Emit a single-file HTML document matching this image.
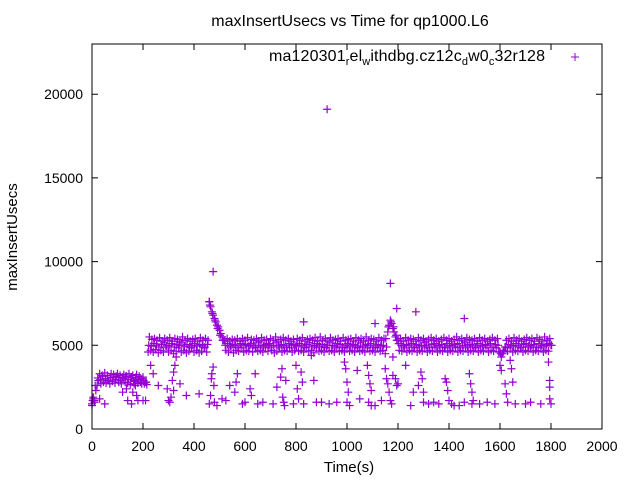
<!DOCTYPE html>
<html><head><meta charset="utf-8"><style>
body{margin:0;background:#fff}
svg{display:block;font-family:"Liberation Sans",sans-serif}
</style></head><body>
<svg id="c" width="640" height="480" xmlns="http://www.w3.org/2000/svg">
<rect width="640" height="480" fill="#fff"/>
<text x="350" y="26" font-size="16" text-anchor="middle">maxInsertUsecs vs Time for qp1000.L6</text>
<text x="349" y="472" font-size="15" text-anchor="middle">Time(s)</text>
<text transform="translate(17,237) rotate(-90)" font-size="15" text-anchor="middle">maxInsertUsecs</text>
<g id="ticks"></g>
<g id="marks"></g>
<rect x="92" y="44" width="510" height="385" fill="none" stroke="#000" stroke-width="1"/>
<g>
<text x="545" y="61" font-size="16" text-anchor="end" textLength="276">ma120301<tspan font-size="11" dy="4">r</tspan><tspan dy="-4">el</tspan><tspan font-size="11" dy="4">w</tspan><tspan dy="-4">ithdbg.cz12c</tspan><tspan font-size="11" dy="4">d</tspan><tspan dy="-4">w0</tspan><tspan font-size="11" dy="4">c</tspan><tspan dy="-4">32r128</tspan></text>
<path d="M571 57h8M575 53v8" stroke="#9400d3" stroke-width="1"/>
</g>
</svg>
<script>
const xTicks=[0,200,400,600,800,1000,1200,1400,1600,1800,2000];
const yTicks=[0,5000,10000,15000,20000];
const bandStart=0, bandStep=5;
const bandV=[
1500,1900,1700,2300,2600,2900,3300,2700,3200,2800,3350,2750,3200,2900,2700,3300,2850,3250,2750,3150,
3300,2800,3200,2700,3100,3250,2800,3150,2750,3300,2650,3100,3200,2700,2850,3250,2750,3150,2800,2700,
3100,2700,2800,2650,4600,5500,4700,5350,4600,5400,4750,5300,4550,5450,4700,5250,4600,5400,4850,5300,
4600,5450,4700,5250,4500,5400,4650,5350,4850,5250,4600,5500,4700,5300,4550,5400,4650,5250,4850,5350,
4600,5400,4700,5250,4550,5450,4650,5300,4850,5400,4600,5300,7600,7300,7000,6800,6600,6400,6200,6100,
5900,5700,5500,5300,5300,4700,5400,4600,5250,4850,5350,4550,5300,4700,5400,4650,5250,4850,5400,4600,
5300,4700,5450,4650,5000,5350,4600,5300,4850,5400,4650,5250,4700,5450,4600,5300,4850,5350,4650,5000,
5400,4700,5300,4550,5500,4650,5250,4850,5350,4600,5450,4700,5300,4650,5400,4850,5250,4600,5350,4700,
5000,5400,4650,5300,4700,5450,4600,5250,4850,5350,4650,5400,4700,5300,4550,5450,4850,5250,4650,5500,
4700,5300,4600,5400,4850,5250,4650,5450,4700,5300,4600,5350,4850,5400,4650,5250,4700,5450,4600,5300,
4850,5350,4650,5400,4700,5250,4600,5450,4850,5300,4650,5400,4700,5250,4600,5500,4850,5300,4650,5400,
4700,5350,4600,5250,4850,5450,4650,5300,4700,5400,4500,4900,5800,6200,6500,6300,6000,5800,5500,5300,
5300,4700,5400,4650,5250,4850,5450,4600,5300,4700,5400,4650,5350,4850,5250,4600,5450,4700,5300,4650,
5400,4850,5250,4600,5350,4700,5450,4650,5300,4850,5400,4600,5250,4700,5350,4650,5450,4850,5300,4600,
5400,4700,5250,4650,5350,4850,5500,4600,5300,4700,5400,4650,5250,4850,5450,4600,5350,4700,5300,4650,
5400,4850,5250,4600,5450,4700,5300,4650,5400,4850,5250,4600,5350,4700,5450,4650,5300,4850,5400,4600,
4600,4300,4500,4700,4900,5300,4650,5400,4850,5250,4600,5450,4700,5300,4650,5400,4850,5250,4600,5350,
4700,5450,4650,5300,4850,5400,4600,5250,4700,5450,4650,5350,4850,5250,4600,5500,4700,5300,4650,5400,
5000];
const band2Start=2.5, band2Step=10;
const band2V=[
1700,2600,3050,2950,3150,3000,2900,3100,3050,2950,3100,2900,3000,3150,2950,3050,2850,3100,2950,3000,2900,2800,
5000,4950,5100,5000,4900,5050,5150,4950,5000,5100,4900,5050,5000,5150,4950,5050,4900,5000,5100,4950,5050,5000,4900,5050,
7400,6900,6500,6000,5600,5300,5000,5100,4950,5050,5000,4900,5100,5000,
5050,4950,5100,5000,4900,5150,5000,4950,5050,5100,4900,5000,5150,4950,5050,5000,4900,5100,5000,5050,
4950,5100,5000,4900,5050,5150,4950,5000,5100,4950,5050,4900,5000,5150,5000,4950,5100,5050,4900,5000,
5100,4950,5050,5000,4900,5150,4950,5050,5000,5100,4900,5000,5050,4950,5000,
5400,6100,6400,6100,5600,
5100,5000,4950,5050,5000,5100,4900,5050,5000,4950,5150,5000,4900,5050,5100,4950,5000,5050,4900,5100,
5000,4950,5050,5100,4900,5000,5150,4950,5050,5000,4900,5100,5000,4950,5050,5000,5100,4900,5050,5000,
4500,4600,4900,5050,5000,4950,5100,5000,4900,5050,5100,4950,5000,5050,4900,5100,5000,4950,5050,5100,
5000];
const extraT=[0,5,10,160,170,175,180,165,140,155,30,50,120,135,200,210,260,240,230,295,300,305,310,315,320,325,330,320,345,370,420,460,465,470,475,478,468,480,490,510,525,540,560,565,570,590,600,620,625,640,650,670,710,725,740,745,748,752,755,760,790,800,805,810,820,825,830,860,870,880,900,930,960,990,995,1000,1005,1000,1010,1040,1050,1080,1085,1090,1095,1085,1095,1110,1135,1150,1155,1160,1165,1170,1175,1180,1190,1200,1180,1195,1230,1250,1260,1280,1290,1295,1300,1300,1320,1340,1360,1385,1390,1395,1400,1410,1420,1440,1460,1480,1485,1490,1495,1490,1520,1550,1580,1600,1605,1620,1625,1630,1640,1645,1650,1660,1700,1720,1760,1790,1795,1795,1795,1800,922,475,1170,1270,1460,830,1195,1110,460];
const extraV=[1400,1800,1600,2200,2600,2000,1700,2900,1700,1500,1800,1500,2200,2400,1700,1700,2600,3300,3800,2400,1700,1600,1900,2900,3400,3800,4300,2300,2700,2000,2100,1500,2000,3300,3700,2600,3000,1600,1400,1800,1700,2600,2200,2800,3300,1500,1600,2400,2000,3300,1500,1600,1500,2500,3100,3600,1900,1600,1400,2900,1500,3800,2400,1800,3400,2800,1500,4400,2900,1600,1600,1500,1600,4000,3600,2800,2200,1600,1400,3500,1800,3800,3200,2700,2300,1600,1400,1400,1700,3600,3000,2700,2200,1700,1500,3200,3000,2700,4300,2600,3800,1400,2200,2600,3400,3000,2200,1600,1500,1600,1500,3000,2800,2300,1700,1500,1400,1400,1600,3300,2700,2200,1700,1500,1500,1600,1500,3800,3500,2700,2100,1600,4100,3600,2800,1500,1500,1600,1500,4000,2900,2500,1800,1500,19100,9400,8700,7000,6600,6400,7200,6300,7600];

const X0=92,X1=602,Y0=429,Y1=44;
const xs=t=>X0+(t-0)/2000*(X1-X0);
const ys=v=>Y0-(v-0)/23000*(Y0-Y1);
const NS="http://www.w3.org/2000/svg";
const tg=document.getElementById('ticks'), mg=document.getElementById('marks');
function mk(tag,attrs,parent){const e=document.createElementNS(NS,tag);for(const k in attrs)e.setAttribute(k,attrs[k]);parent.appendChild(e);return e;}
xTicks.forEach(t=>{
  const x=xs(t);
  const p=mk('path',{d:`M${x} ${Y0}v-6M${x} ${Y1}v6`,stroke:'#000'},tg);
  
  
  const l=mk('text',{x:x,y:451,'font-size':14,'text-anchor':'middle'},tg);l.textContent=t;
  
  
});
yTicks.forEach(v=>{
  const y=ys(v);
  const p=mk('path',{d:`M${X0} ${y}h6M${X1} ${y}h-6`,stroke:'#000'},tg);
  
  
  const l=mk('text',{x:83,y:y+5,'font-size':14,'text-anchor':'end'},tg);l.textContent=v;
  
  
});
function plus(t,v){
  const x=xs(t),y=ys(v);
  const p=mk('path',{d:`M${x-4} ${y}h8M${x} ${y-4}v8`,stroke:'#9400d3','stroke-width':1.2},mg);
  
  
}
bandV.forEach((v,i)=>plus(bandStart+i*bandStep,v));
band2V.forEach((v,i)=>plus(band2Start+i*band2Step,v));
extraT.forEach((t,i)=>plus(t,extraV[i]));
</script>
</body></html>
